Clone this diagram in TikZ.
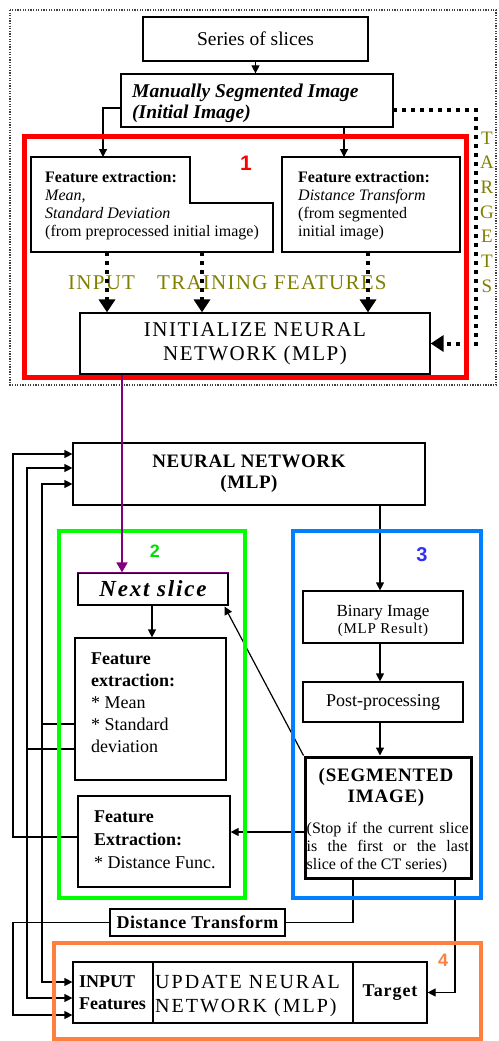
\documentclass[tikz,border=0pt]{standalone}
\usepackage{fontspec}
\setmainfont{Liberation Serif}
\newfontfamily\lsans{Liberation Sans}
\usetikzlibrary{arrows.meta}
\definecolor{olivet}{HTML}{808000}
\definecolor{redb}{HTML}{FF0000}
\definecolor{greenb}{HTML}{00FF00}
\definecolor{greent}{HTML}{00E000}
\definecolor{blueb}{HTML}{0080FF}
\definecolor{bluet}{HTML}{3030F0}
\definecolor{orangeb}{HTML}{FF7F3F}
\definecolor{purp}{HTML}{800080}
\newcommand{\fsz}[2]{\fontsize{#1}{#2}\selectfont}
\begin{document}
\begin{tikzpicture}[x=1pt,y=-1pt,
  box/.style={draw,line width=1.2pt,inner sep=0pt,align=center},
  txt/.style={inner sep=0pt,align=left},
  conn/.style={line width=1.2pt,-{Triangle[width=8pt,length=8pt]}},
  plain/.style={line width=1.2pt},
  thickdot/.style={line width=4pt,dash pattern=on 4pt off 5pt,-{Triangle[width=16pt,length=13pt]}},
  frame/.style={line width=4pt},
  numlab/.style={inner sep=0pt,font=\lsans\bfseries\fsz{20}{20}}]
\useasboundingbox (0,0) rectangle (498,1041);

% ---------- top part ----------
\node[box,minimum width=225pt,minimum height=44pt,font=\fsz{19.5}{22}] (series) at (255.5,39) {Series of slices};
\node[box,minimum width=272pt,minimum height=53pt] (manual) at (257,100.5) {};
\node[txt,anchor=north west,font=\fsz{19.5}{21.5}\bfseries\itshape] (manualtxt) at (132,81.9) {\strut Manually Segmented Image\\(Initial Image)};

% feature extraction (left, notched)
\draw[plain] (31,157) -- (190,157) -- (190,203) -- (273,203) -- (273,252) -- (31,252) -- cycle;
\node[txt,anchor=north west,font=\fsz{16}{18}] (feat1atxt) at (45,169.4) {\strut\textbf{Feature extraction:}\\\textit{Mean,}\\\textit{Standard Deviation}\\(from preprocessed initial image)};
\node[box,minimum width=178pt,minimum height=95pt] (feat1b) at (371,204.5) {};
\node[txt,anchor=north west,font=\fsz{16}{18}] (feat1btxt) at (298,169.4) {\strut\textbf{Feature extraction:}\\\textit{Distance Transform}\\(from segmented\\initial image)};

\node[numlab,text=redb,font=\lsans\bfseries\fsz{21}{21}] (lab1) at (246,163.5) {1};

\node[anchor=base west,inner sep=0pt,text=olivet,font=\fsz{21}{24}\addfontfeature{LetterSpace=6}] (inlab) at (68,289) {INPUT};
\node[anchor=base west,inner sep=0pt,text=olivet,font=\fsz{21}{24}\addfontfeature{LetterSpace=6}] (trlab) at (157,289) {TRAINING FEATURES};

\node[box,minimum width=350pt,minimum height=61pt,font=\fsz{21}{24}\addfontfeature{LetterSpace=7}] (init) at (255,343.5) {INITIALIZE NEURAL\\NETWORK (MLP)};

\node[inner sep=0pt,anchor=north,align=center,text=olivet,font=\fsz{19}{24.7}] (targets) at (487,126.7) {\strut T\\A\\R\\G\\E\\T\\S};

\coordinate (mlA) at (121,108);
\coordinate (f1in) at (103,157);
\coordinate (f1bin) at (344,157);
\coordinate (d1) at (107,252);
\coordinate (d2) at (202,252);
\coordinate (d3) at (368,252);
\coordinate (tg1) at (393,110);
\coordinate (tg2) at (476,110);

\draw[conn] (series.south) -- (series.south |- manual.north);
\draw[conn] (mlA) -| (f1in);
\draw[conn] (manual.south -| f1bin) -- (f1bin);
\draw[thickdot] (d1) -- (init.north -| d1);
\draw[thickdot] (d2) -- (init.north -| d2);
\draw[thickdot] (d3) -- (init.north -| d3);
\draw[thickdot] (tg1) -- (tg2) |- (init.east);

\draw[redb,line width=5pt] (24.5,136.5) rectangle (466,377);
\draw[black!75,line width=1.3pt,dash pattern=on 1.3pt off 1.3pt] (10,10) rectangle (496,385);

% ---------- middle part ----------
\node[box,minimum width=352pt,minimum height=62pt,font=\fsz{19}{21}\bfseries\addfontfeature{LetterSpace=3}] (nn) at (249,474) {NEURAL NETWORK\\(MLP)};

\node[box,minimum width=150pt,minimum height=32pt,font=\fsz{23}{26}\bfseries\itshape\addfontfeature{LetterSpace=8}] (next) at (153,589) {Next slice};

\node[box,minimum width=151pt,minimum height=142pt] (feat2) at (150.5,709) {};
\node[txt,anchor=north west,font=\fsz{18}{22}] (feat2txt) at (91,648.6) {\strut\textbf{Feature}\\\textbf{extraction:}\\* Mean\\* Standard\\deviation};

\node[box,minimum width=152pt,minimum height=91pt] (feat3) at (154,841.5) {};
\node[txt,anchor=north west,font=\fsz{18}{23}] (feat3txt) at (94,805.9) {\strut\textbf{Feature}\\\textbf{Extraction:}\\* Distance Func.};

\node[box,minimum width=160pt,minimum height=52pt] (bin) at (383,617) {};
\node[anchor=base,inner sep=0pt,font=\fsz{17}{19}] (binA) at (383,616) {Binary Image};
\node[anchor=base,inner sep=0pt,font=\fsz{15}{17}\addfontfeature{LetterSpace=5}] (binB) at (383,633) {(MLP Result)};

\node[box,minimum width=160pt,minimum height=40pt,font=\fsz{18}{20}] (post) at (383,702) {Post-processing};

\node[draw,line width=3pt,inner sep=0pt,minimum width=166pt,minimum height=121.5pt] (seg) at (388,817.75) {};
\node[anchor=north,inner sep=0pt,align=center,font=\fsz{19}{21}\bfseries\addfontfeature{LetterSpace=4}] (segt) at (386,766.3) {\strut(SEGMENTED\\IMAGE)};
\node[txt,anchor=north west,font=\fsz{16}{18}] (segs) at (306.5,820.4) {\strut\makebox[162pt][s]{(Stop if the current slice}\\\makebox[162pt][s]{is the first or the last}\\slice of the CT series)};

\node[box,minimum width=175pt,minimum height=27pt,font=\fsz{18}{20}\bfseries\addfontfeature{LetterSpace=3}] (dt) at (197.5,922.5) {Distance Transform};

% ---------- bottom part ----------
\node[box,minimum width=80pt,minimum height=61pt] (inp) at (113,992.5) {};
\node[txt,anchor=north west,font=\fsz{18}{22}\bfseries] (inptxt) at (79,971.6) {\strut INPUT\\Features};
\node[box,minimum width=200pt,minimum height=61pt] (upd) at (253,992.5) {};
\node[txt,anchor=north west,font=\fsz{20}{24}\addfontfeature{LetterSpace=10}] (updtxt) at (155,971.2) {\strut UPDATE NEURAL\\NETWORK (MLP)};
\node[box,minimum width=74pt,minimum height=61pt,font=\fsz{18}{20}\bfseries\addfontfeature{LetterSpace=5}] (tgt) at (390,992.5) {Target};

% ---------- connectors ----------
\coordinate (xa) at (42,0);
\coordinate (xb) at (27,0);
\coordinate (xc) at (13,0);
\coordinate (ya1) at (0,724);
\coordinate (yb1) at (0,749);
\coordinate (yc1) at (0,837);
\coordinate (nA) at (0,484);
\coordinate (nB) at (0,468);
\coordinate (nC) at (0,454);
\coordinate (uA) at (0,982);
\coordinate (uB) at (0,998);
\coordinate (uD) at (0,1015);
\coordinate (bx) at (380,0);
\coordinate (s3) at (0,832);
\coordinate (sdt) at (353,0);
\coordinate (stg) at (455,0);
\coordinate (pp) at (122,0);

\draw[conn] (feat2.west |- ya1) -- (xa |- ya1) -- (xa |- nA) -- (nn.west |- nA);
\draw[conn] (xa |- ya1) -- (xa |- uA) -- (inp.west |- uA);
\draw[conn] (feat2.west |- yb1) -- (xb |- yb1) -- (xb |- nB) -- (nn.west |- nB);
\draw[conn] (xb |- yb1) -- (xb |- uB) -- (inp.west |- uB);
\draw[conn] (feat3.west |- yc1) -- (xc |- yc1) -- (xc |- nC) -- (nn.west |- nC);
\draw[conn] (dt.west) -- (xc |- dt.west) -- (xc |- uD) -- (inp.west |- uD);

\draw[conn] (next.south -| pp) ++(30,0) coordinate (nxs) -- (nxs |- feat2.north);
\draw[conn] (nn.south -| bx) -- (bin.north -| bx);
\draw[conn] (bin.south -| bx) -- (post.north -| bx);
\draw[conn] (post.south -| bx) -- (seg.north -| bx);
\draw[conn] (seg.north west) -- ([xshift=-4pt,yshift=-1pt]next.south east);
\draw[conn] (seg.west |- s3) -- (feat3.east |- s3);
\draw[plain] (seg.south -| sdt) |- (dt.east);
\draw[conn] (seg.south -| stg) |- (tgt.east);

% ---------- coloured frames ----------
\draw[greenb,frame] (58.5,530.5) rectangle (244.5,897.5);
\draw[blueb,frame] (293,530.5) rectangle (480.5,897.5);
\draw[orangeb,frame] (54,942.5) rectangle (480.5,1038.5);
\node[numlab,text=greent,font=\lsans\bfseries\fsz{18}{18}] (lab2) at (155,551) {2};
\node[numlab,text=bluet] (lab3) at (422,554.5) {3};
\node[numlab,text=orangeb,font=\lsans\bfseries\fsz{18}{18}] (lab4) at (443,960.5) {4};

% purple link
\draw[purp,line width=1.5pt] (next.north west) -- (next.north east);
\draw[purp,line width=1.5pt,-{Triangle[width=11pt,length=10pt]}] (init.south -| pp) -- (next.north -| pp);
\end{tikzpicture}
\end{document}
